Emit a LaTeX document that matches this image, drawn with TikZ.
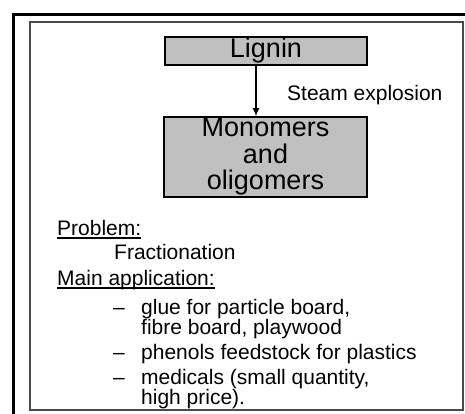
\documentclass[tikz,border=0pt]{standalone}
\usepackage{fontspec}
\setmainfont{Liberation Sans}
\usetikzlibrary{arrows.meta}
\definecolor{boxgray}{HTML}{C0C0C0}
\definecolor{framegray}{HTML}{4A4A4A}
\begin{document}
\begin{tikzpicture}[x=1pt,y=-1pt,
  procbox/.style={draw=black,line width=1.6pt,fill=boxgray,inner sep=0pt,font=\fontsize{27}{26.5}\selectfont,align=center},
  txt/.style={inner sep=0pt,anchor=base west,font=\fontsize{21}{22}\selectfont},
  uline/.style={line width=1.2pt}]
\useasboundingbox (0,0) rectangle (465,413);
% outer frame
\draw[line width=3pt] (13,430) -- (13,14.5) -- (480,14.5);
% inner frame
\draw[framegray,line width=1.6pt] (30,22) rectangle (463,410);
% boxes
\node[procbox,minimum width=202pt,minimum height=28pt] (lig) at (266,51) {Lignin};
\node[procbox,minimum width=203pt,minimum height=80pt] (mono) at (265.5,157) {Monomers\\and\\oligomers};
\draw[line width=1.2pt,-{Latex[length=8pt,width=7pt]}] (256,0 |- lig.south) coordinate (a0) -- (256,0 |- mono.north) coordinate (a1);
\node[txt] (steam) at (287,100) {Steam explosion};
% text
\node[txt] (prob) at (57,235) {Problem:};
\draw[uline] ([yshift=-3pt]prob.base west) -- ([yshift=-3pt]prob.base east);
\node[txt] (frac) at (114,259) {Fractionation};
\node[txt] (main) at (57,285) {Main application:};
\draw[uline] ([yshift=-3pt]main.base west) -- ([yshift=-3pt]main.base east);
\node[txt] (d1) at (113,314) {–};
\node[txt] (i1a) at (141,314) {glue for particle board,};
\node[txt] (i1b) at (141,334) {fibre board, playwood};
\node[txt] (d2) at (113,359) {–};
\node[txt] (i2) at (141,359) {phenols feedstock for plastics};
\node[txt] (d3) at (113,384) {–};
\node[txt] (i3a) at (141,384) {medicals (small quantity,};
\node[txt] (i3b) at (141,404) {high price).};
\end{tikzpicture}
\end{document}
